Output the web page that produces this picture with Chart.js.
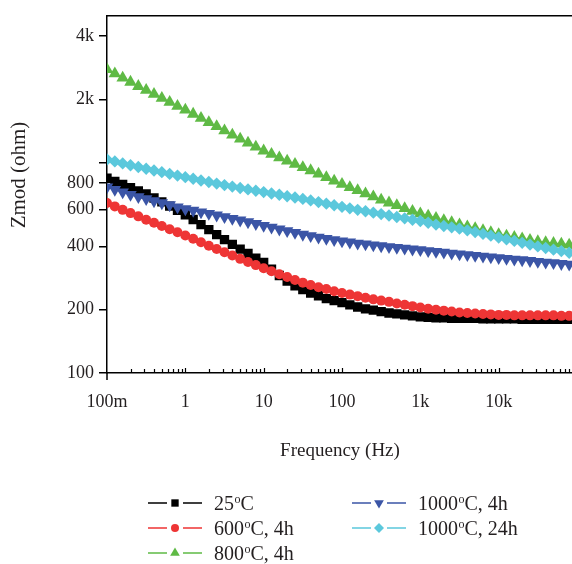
<!DOCTYPE html>
<html>
<head>
<meta charset="utf-8">
<script src="https://cdn.jsdelivr.net/npm/chart.js@4.4.1/dist/chart.umd.min.js"></script>
<style>
  html, body { margin: 0; padding: 0; overflow: hidden; background: #ffffff; }
  #wrap { width: 600px; height: 564px; }
</style>
</head>
<body>
<div id="wrap"><canvas id="c" width="600" height="564"></canvas></div>
<script>
// Sweep frequencies: 10 points per decade, 100 mHz to 100 kHz
const MANTISSA = [1, 1.259, 1.585, 1.995, 2.512, 3.162, 3.981, 5.012, 6.310, 7.943];
const DECADES = [0.1, 1, 10, 100, 1000, 10000];
const FREQ = [];
DECADES.forEach(d => MANTISSA.forEach(m => FREQ.push(+(d * m).toPrecision(4))));
FREQ.push(100000);

// |Z| in ohm for each sample
const Z_25C = [844, 815, 788, 761, 735, 710, 680, 651, 622, 594, 566, 537, 508, 481, 455, 431,
  409, 388, 370, 352, 336, 312, 291, 274, 260, 249, 240, 233, 226, 221, 216, 211, 206, 202, 199,
  196, 193, 191, 189, 187, 185, 184, 183, 183, 182, 182, 182, 182, 181, 181, 181, 181, 181, 180,
  180, 180, 180, 180, 180, 180, 180];
const Z_600C_4H = [644, 620, 597, 576, 556, 536, 518, 500, 483, 467, 451, 435, 419, 403, 389, 375,
  362, 349, 337, 326, 315, 305, 295, 286, 277, 269, 262, 256, 251, 245, 240, 236, 232, 228, 224,
  221, 218, 214, 211, 208, 205, 202, 200, 198, 196, 194, 193, 192, 191, 190, 189, 189, 188, 188,
  188, 188, 188, 188, 187, 187, 187];
const Z_800C_4H = [2780, 2650, 2530, 2420, 2310, 2214, 2120, 2030, 1940, 1860, 1783, 1705, 1630,
  1555, 1488, 1420, 1357, 1297, 1242, 1190, 1140, 1098, 1058, 1020, 985, 951, 918, 885, 852, 820,
  791, 764, 738, 713, 689, 665, 645, 626, 607, 589, 572, 558, 545, 532, 520, 508, 497, 487, 476,
  466, 456, 449, 442, 435, 428, 422, 418, 414, 411, 407, 404];
const Z_1000C_4H = [766, 745, 725, 706, 689, 673, 658, 644, 630, 616, 603, 593, 583, 573, 563, 553,
  543, 533, 523, 513, 503, 493, 483, 474, 465, 456, 449, 442, 436, 430, 424, 419, 414, 410, 406,
  402, 398, 395, 392, 388, 385, 381, 378, 375, 371, 368, 365, 362, 359, 356, 353, 350, 347, 345,
  342, 339, 336, 334, 331, 329, 326];
const Z_1000C_24H = [1037, 1015, 993, 973, 954, 936, 919, 902, 885, 869, 854, 839, 824, 810, 796,
  783, 770, 758, 747, 736, 725, 714, 704, 693, 683, 673, 662, 650, 639, 628, 617, 607, 597, 588,
  579, 570, 561, 552, 544, 536, 528, 518, 508, 500, 493, 486, 477, 468, 459, 450, 441, 433, 425,
  416, 408, 400, 393, 386, 380, 373, 367];

const SERIES_LABELS = ['25ºC', '600ºC, 4h', '800ºC, 4h', '1000ºC, 4h', '1000ºC, 24h'];
const SERIES_VALUES = [Z_25C, Z_600C_4H, Z_800C_4H, Z_1000C_4H, Z_1000C_24H];

const X_TICKS = [0.1, 1, 10, 100, 1000, 10000, 100000];
const X_TICK_LABELS = ['100m', '1', '10', '100', '1k', '10k', ''];
const Y_TICKS = [100, 200, 400, 600, 800, 1000, 2000, 4000];
const Y_TICK_LABELS = ['100', '200', '400', '600', '800', '', '2k', '4k'];

const X_TITLE = 'Frequency (Hz)';
const Y_TITLE = 'Zmod (ohm)';

// Marker styling per series
const STYLES = [
  { color: '#000000', pointStyle: 'rect', radius: 6.6, rotation: 0, legendRadius: 5.2 },
  { color: '#ee3535', pointStyle: 'circle', radius: 5.0, rotation: 0, legendRadius: 4.0 },
  { color: '#5fba45', pointStyle: 'triangle', radius: 7.2, rotation: 0, legendRadius: 5.6 },
  { color: '#3b55a6', pointStyle: 'triangle', radius: 7.2, rotation: 180, legendRadius: 5.6 },
  { color: '#5bc8dc', pointStyle: 'rectRot', radius: 6.2, rotation: 0, legendRadius: 5.0 }
];

const SERIF = "'Liberation Serif', 'DejaVu Serif', serif";
const TEXT = '#231f20';

const datasets = SERIES_VALUES.map((vals, i) => ({
  label: SERIES_LABELS[i],
  data: FREQ.map((f, k) => ({ x: f, y: vals[k] })),
  borderColor: STYLES[i].color,
  backgroundColor: STYLES[i].color,
  borderWidth: 1.5,
  pointStyle: STYLES[i].pointStyle,
  pointRadius: STYLES[i].radius,
  pointRotation: STYLES[i].rotation,
  pointBorderWidth: 0,
  pointBackgroundColor: STYLES[i].color,
  tension: 0,
  order: SERIES_VALUES.length - i
}));

function drawMarker(ctx, st, r, x, y) {
  ctx.save();
  ctx.fillStyle = st.color;
  ctx.beginPath();
  if (st.pointStyle === 'rect') {
    const s = r * Math.SQRT1_2;
    ctx.rect(x - s, y - s, 2 * s, 2 * s);
  } else if (st.pointStyle === 'circle') {
    ctx.arc(x, y, r, 0, Math.PI * 2);
  } else if (st.pointStyle === 'rectRot') {
    ctx.moveTo(x, y - r); ctx.lineTo(x + r, y); ctx.lineTo(x, y + r); ctx.lineTo(x - r, y);
  } else {
    const dir = st.rotation === 180 ? -1 : 1;
    const h = r * 1.5;
    const w = r * Math.sqrt(3) / 2;
    ctx.moveTo(x, y - dir * r);
    ctx.lineTo(x + w, y - dir * (r - h));
    ctx.lineTo(x - w, y - dir * (r - h));
  }
  ctx.closePath();
  ctx.fill();
  ctx.restore();
}

// Label text with the "o" of ºC raised as a superscript
function drawLabel(ctx, text, x, y) {
  const parts = text.split('º');
  ctx.save();
  ctx.fillStyle = TEXT;
  ctx.textBaseline = 'alphabetic';
  ctx.textAlign = 'left';
  let cx = x;
  parts.forEach((p, idx) => {
    if (idx > 0) {
      ctx.font = '12px ' + SERIF;
      ctx.fillText('o', cx + 0.5, y - 7);
      cx += ctx.measureText('o').width + 0.5;
    }
    ctx.font = '20px ' + SERIF;
    ctx.fillText(p, cx, y);
    cx += ctx.measureText(p).width;
  });
  ctx.restore();
}

const framePlugin = {
  id: 'frame',
  afterDraw(chart) {
    const ctx = chart.ctx;
    const a = chart.chartArea;
    const xs = chart.scales.x;
    ctx.save();
    ctx.strokeStyle = '#000';
    ctx.lineWidth = 1.5;
    // top and right border of the plot box
    ctx.beginPath();
    ctx.moveTo(a.left, a.top); ctx.lineTo(a.right, a.top); ctx.lineTo(a.right, a.bottom);
    ctx.stroke();
    // y axis line runs a little past the x axis
    ctx.beginPath();
    ctx.moveTo(a.left, a.bottom); ctx.lineTo(a.left, a.bottom + 7);
    ctx.stroke();
    // inward x ticks: decades and their 2..9 subdivisions
    ctx.lineWidth = 1.2;
    ctx.beginPath();
    for (let d = 0; d < X_TICKS.length - 1; d++) {
      for (let m = 1; m <= 9; m++) {
        if (m === 1 && d === 0) continue;
        const v = X_TICKS[d] * m;
        const px = Math.round(xs.getPixelForValue(v)) + 0.5;
        const len = m === 1 ? 5 : 4;
        ctx.moveTo(px, a.bottom); ctx.lineTo(px, a.bottom - len);
      }
    }
    ctx.stroke();
    ctx.restore();

    // axis titles
    ctx.save();
    ctx.fillStyle = TEXT;
    ctx.textAlign = 'center';
    ctx.textBaseline = 'middle';
    ctx.font = '19px ' + SERIF;
    ctx.fillText(X_TITLE, 340, 451);
    ctx.translate(19, 175);
    ctx.rotate(-Math.PI / 2);
    ctx.font = '21px ' + SERIF;
    ctx.fillText(Y_TITLE, 0, 0);
    ctx.restore();

    // legend: two columns, line - marker - line then label
    const colX = [148, 352];
    const rowY = [503, 528, 553];
    chart.data.datasets.forEach((ds, i) => {
      const col = i < 3 ? 0 : 1;
      const row = i < 3 ? i : i - 3;
      const x0 = colX[col];
      const y0 = rowY[row];
      const st = STYLES[i];
      ctx.save();
      ctx.strokeStyle = st.color;
      ctx.lineWidth = 1.5;
      ctx.beginPath();
      ctx.moveTo(x0, y0); ctx.lineTo(x0 + 19, y0);
      ctx.moveTo(x0 + 35, y0); ctx.lineTo(x0 + 54, y0);
      ctx.stroke();
      ctx.restore();
      drawMarker(ctx, st, st.legendRadius, x0 + 27, y0);
      drawLabel(ctx, ds.label, x0 + 66, y0 + 7);
    });
  }
};

new Chart(document.getElementById('c'), {
  type: 'line',
  data: { datasets },
  options: {
    responsive: false,
    animation: false,
    layout: { padding: { top: 13, right: 23, left: 0, bottom: 0 } },
    plugins: { legend: { display: false }, tooltip: { enabled: false } },
    scales: {
      x: {
        type: 'logarithmic',
        position: 'bottom',
        min: 0.1,
        max: 100000,
        grid: { display: true, drawOnChartArea: false, drawTicks: false, color: '#000' },
        border: { display: true, color: '#000', width: 1.5 },
        afterBuildTicks: s => { s.ticks = X_TICKS.map(v => ({ value: v })); },
        afterFit: s => { s.height = 191; },
        ticks: {
          autoSkip: false,
          maxRotation: 0,
          padding: 18,
          color: TEXT,
          font: { family: SERIF, size: 18 },
          callback: (v) => {
            const k = X_TICKS.indexOf(v);
            return k >= 0 ? X_TICK_LABELS[k] : '';
          }
        }
      },
      y: {
        type: 'logarithmic',
        min: 100,
        max: 5000,
        grid: { display: true, drawOnChartArea: false, drawTicks: true, tickLength: 8, color: '#000', lineWidth: 1.5 },
        border: { display: true, color: '#000', width: 1.5 },
        afterBuildTicks: s => { s.ticks = Y_TICKS.map(v => ({ value: v })); },
        afterFit: s => { s.width = 107; },
        ticks: {
          autoSkip: false,
          padding: 5,
          color: TEXT,
          font: { family: SERIF, size: 18 },
          callback: (v) => {
            const k = Y_TICKS.indexOf(v);
            return k >= 0 ? Y_TICK_LABELS[k] : '';
          }
        }
      }
    }
  },
  plugins: [framePlugin]
});
</script>
</body>
</html>
